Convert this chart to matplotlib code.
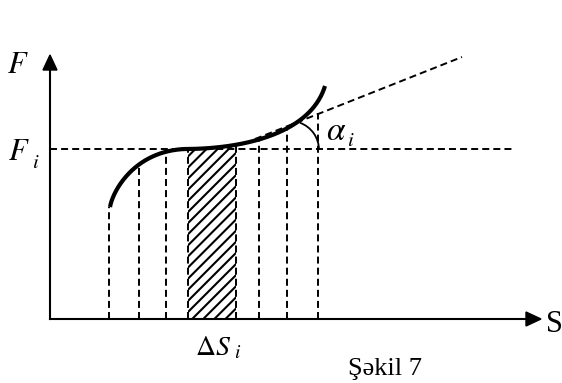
import numpy as np
import matplotlib.pyplot as plt
from matplotlib.patches import Polygon, Arc

plt.rcParams['mathtext.fontset'] = 'stix'
plt.rcParams['font.family'] = 'Liberation Serif'
plt.rcParams['hatch.linewidth'] = 1.5

# drawing coordinates (pixel-like units, y grows downward)
origin = (50, 319)
axis_end_x = 541
axis_end_y = 55
Fi_level = 149
Fi_line_end = 513

# curve: two cubic bezier pieces (control points)
curve_left = np.array([(110, 207), (113, 190), (135, 151), (185, 149)])
curve_right = np.array([(185, 149), (240, 149), (310, 135), (325, 86)])

# dashed ordinates and the hatched strip
ordinates_x = [109, 139, 166, 259, 287]
last_ordinate = (318, 113)
strip_x = (188, 236)

# tangent line
tangent = np.array([(255, 139), (462, 57)])


def bezier(P, n=150):
    t = np.linspace(0, 1, n)[:, None]
    return ((1 - t) ** 3 * P[0] + 3 * (1 - t) ** 2 * t * P[1]
            + 3 * (1 - t) * t ** 2 * P[2] + t ** 3 * P[3])


curve = np.vstack([bezier(curve_left), bezier(curve_right)[1:]])

fig = plt.figure(figsize=(5.62, 3.83), dpi=100)
ax = fig.add_axes([0, 0, 1, 1])
ax.set_xlim(0, 562)
ax.set_ylim(383, 0)
ax.axis('off')

dash = dict(color='black', lw=1.4, dashes=(3.6, 2.1))

# axes with arrows
ax.plot([origin[0], axis_end_x - 12], [origin[1], origin[1]], color='black', lw=1.5)
ax.plot([origin[0], origin[0]], [origin[1], axis_end_y + 12], color='black', lw=1.5)
ax.add_patch(Polygon([(axis_end_x, origin[1]), (axis_end_x - 15, origin[1] - 7),
                      (axis_end_x - 15, origin[1] + 7)], closed=True, color='black'))
ax.add_patch(Polygon([(origin[0], axis_end_y), (origin[0] - 7, axis_end_y + 15),
                      (origin[0] + 7, axis_end_y + 15)], closed=True, color='black'))

# F_i level
ax.plot([origin[0], Fi_line_end], [Fi_level, Fi_level], **dash)

# ordinates
for x in ordinates_x:
    top = np.interp(x, curve[:, 0], curve[:, 1])
    ax.plot([x, x], [origin[1], top], **dash)
ax.plot([last_ordinate[0]] * 2, [origin[1], last_ordinate[1]], **dash)

# hatched strip
xs = np.linspace(strip_x[0], strip_x[1], 50)
ys = np.interp(xs, curve[:, 0], curve[:, 1])
ax.fill_between(xs, ys, origin[1], facecolor='white', edgecolor='black',
                hatch='///', lw=0)
for x in strip_x:
    ax.plot([x, x], [origin[1], np.interp(x, curve[:, 0], curve[:, 1])], **dash)

# tangent
ax.plot(tangent[:, 0], tangent[:, 1], **dash)

# curve
ax.plot(curve[:, 0], curve[:, 1], color='black', lw=3.0, solid_capstyle='butt')

# angle arc
ax.add_patch(Arc((290, 150), 58, 58, theta1=-70, theta2=0, color='black', lw=1.3))

# labels
ax.text(18, 73, '$F$', fontsize=22, ha='center', va='baseline')
ax.text(19, 160, '$F$', fontsize=22, ha='center', va='baseline')
ax.text(36, 168, '$i$', fontsize=15, ha='center', va='baseline')
ax.text(336, 140, r'$\alpha$', fontsize=24, ha='center', va='baseline')
ax.text(351, 146, '$i$', fontsize=15, ha='center', va='baseline')
ax.text(554, 332, 'S', fontsize=22, ha='center', va='baseline')
ax.text(213, 355, r'$\Delta S$', fontsize=20, ha='center', va='baseline')
ax.text(238, 358, '$i$', fontsize=14, ha='center', va='baseline')
ax.text(385, 375, 'Şəkil 7', fontsize=19, ha='center', va='baseline')

fig.savefig('out.png', dpi=100)
